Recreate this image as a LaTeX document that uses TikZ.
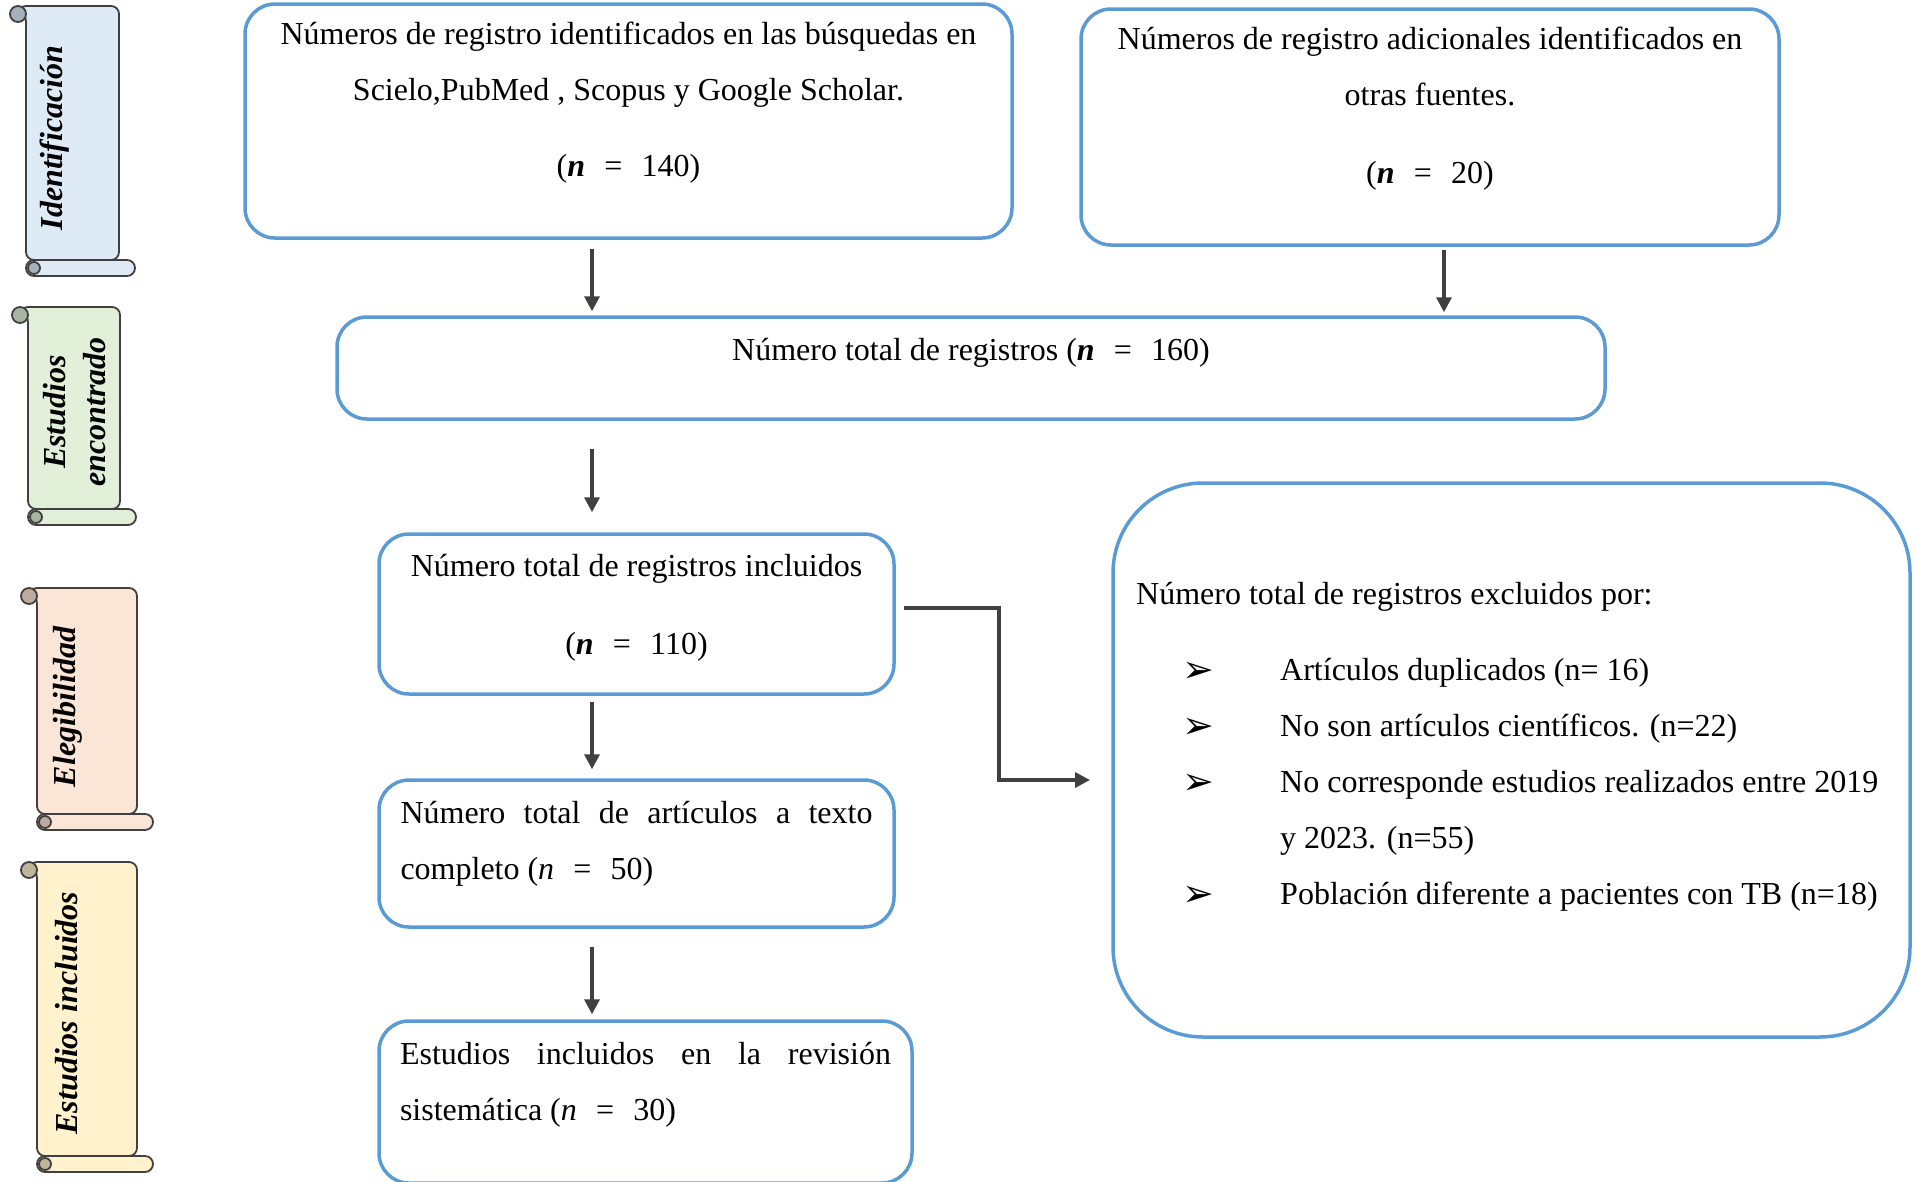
\documentclass[tikz,border=0pt]{standalone}
\usepackage{fontspec}
\setmainfont{Liberation Serif}
\newfontfamily\dejavu{DejaVu Sans}
\usepackage{tikz}
\usetikzlibrary{arrows.meta}
\usetikzlibrary{positioning}
\usetikzlibrary{calc}
\definecolor{boxblue}{HTML}{5B9BD5}
\definecolor{arrowgray}{HTML}{404040}
\definecolor{scrollblue}{HTML}{DEEBF7}
\definecolor{scrollgreen}{HTML}{E2F0D9}
\definecolor{scrollpeach}{HTML}{FBE5D6}
\definecolor{scrollyellow}{HTML}{FFF2CC}
\tikzstyle{wbox}=[draw=boxblue,line width=3.5pt,rounded corners=30pt]
\tikzstyle{txt}=[inner sep=0pt,font=\fontsize{32}{56}\selectfont]
\tikzstyle{scrolltxt}=[inner sep=0pt,rotate=90,align=center,font=\fontsize{32}{40}\selectfont\bfseries\itshape]
\tikzstyle{scrollline}=[draw=arrowgray,line width=1.8pt]
\tikzstyle{arr}=[draw=arrowgray,line width=3.5pt,-{Triangle[length=15pt,width=15pt]}]
\newcommand{\nbold}[1]{(\textbf{\textit{n}}\hspace{.6em}=\hspace{.6em}#1)}
\newcommand{\nital}[1]{(\textit{n}\hspace{.6em}=\hspace{.6em}#1)}
\newcommand{\bul}{\raisebox{-2pt}{\dejavu\fontsize{38}{38}\selectfont ➢}}
\newcommand{\drawscroll}[5]{%
  \draw[scrollline,fill=#5,rounded corners=8pt] (#1-8,#2) -- (#3,#2) -- (#3,#4-16) -- (#1,#4-16) -- (#1,#2+8) -- cycle;
  \draw[scrollline,fill=#5,rounded corners=8pt] (#1,#4-16) rectangle (#3+16,#4);
  \draw[scrollline,fill=#5!75!black] (#1-8,#2+8) circle[radius=8];
  \draw[scrollline,fill=#5!75!black] (#1+8,#4-8) circle[radius=6];
}
\hyphenpenalty=10000

\begin{document}
\begin{tikzpicture}[x=1pt,y=-1pt]
\useasboundingbox (0,0) rectangle (1917,1181);
% scrolls on the left
\drawscroll{26}{6}{119}{276}{scrollblue}
\drawscroll{28}{307}{120}{525}{scrollgreen}
\drawscroll{37}{588}{137}{830}{scrollpeach}
\drawscroll{37}{862}{137}{1172}{scrollyellow}
\node[scrolltxt] (identlab) at (55,138) {Identificación};
\node[scrolltxt] (foundlab) at (75,412) {Estudios\\encontrado};
\node[scrolltxt] (eliglab) at (68,707) {Elegibilidad};
\node[scrolltxt] (inclab) at (67,1013) {Estudios incluidos};

% boxes
\node[wbox,minimum width=767pt,minimum height=234pt] (ident) at (628.5,121) {};
\node[wbox,minimum width=698pt,minimum height=236pt] (extra) at (1430,127) {};
\node[wbox,minimum width=1268pt,minimum height=102pt] (total) at (971,368) {};
\node[wbox,minimum width=515pt,minimum height=160pt] (incl) at (636.5,614) {};
\node[wbox,minimum width=515pt,minimum height=147pt] (fulltext) at (636.5,853.5) {};
\node[wbox,minimum width=533pt,minimum height=162pt] (final) at (645.5,1102) {};
\node[wbox,rounded corners=90pt,minimum width=797pt,minimum height=554pt] (excl) at (1511.5,760) {};

% texts
\node[txt,align=center] (identtxt) at (ident) [yshift=18pt] {Números de registro identificados en las búsquedas en\\Scielo,PubMed , Scopus y Google Scholar.\\[20pt]\nbold{140}};
\node[txt,align=center] (extratxt) at (extra) [yshift=18.5pt] {Números de registro adicionales identificados en\\otras fuentes.\\[22pt]\nbold{20}};
\node[txt] (totaltxt) at (total) [yshift=15pt] {Número total de registros \nbold{160}};
\node[txt,align=center] (incltxt) at (incl) [yshift=6pt] {Número total de registros incluidos\\[22pt]\nbold{110}};
\node[txt,text width=472pt,align=justify] (fulltxt) at (fulltext) [yshift=9.5pt] {Número total de artículos a texto completo \nital{50}};
\node[txt,text width=491pt,align=justify] (finaltxt) at (final) [yshift=17pt] {Estudios incluidos en la revisión sistemática \nital{30}};
\node[txt,anchor=north west] (excltxt) at (excl) [xshift=-375.5pt,yshift=195pt] {%
\begin{tabular}{@{}p{144pt}@{}l@{}}
\multicolumn{2}{@{}l@{}}{Número total de registros excluidos por:}\\[20pt]
\hspace*{46pt}\bul & Artículos duplicados (n= 16)\\
\hspace*{46pt}\bul & No son artículos científicos. (n=22)\\
\hspace*{46pt}\bul & No corresponde estudios realizados entre 2019\\
 & y 2023. (n=55)\\
\hspace*{46pt}\bul & Población diferente a pacientes con TB (n=18)
\end{tabular}};

% connectors
\coordinate (lane) at (592,0);
\coordinate (lanetwo) at (1444,0);
\coordinate (exclin) at (1090,780);
\draw[arr,shorten <=9pt,shorten >=4pt] (ident.south -| lane) -- (total.north -| lane);
\draw[arr,shorten <=3pt,shorten >=3pt] (extra.south -| lanetwo) -- (total.north -| lanetwo);
\draw[arr,shorten <=28pt,shorten >=20pt] (total.south -| lane) -- (incl.north -| lane);
\draw[arr,shorten <=6pt,shorten >=9pt] (incl.south -| lane) -- (fulltext.north -| lane);
\draw[arr,shorten <=18pt,shorten >=5pt] (fulltext.south -| lane) -- (final.north -| lane);
\draw[arr] ([xshift=8pt,yshift=6pt]incl.east) -- ++(95,0) |- (exclin);

\end{tikzpicture}
\end{document}
